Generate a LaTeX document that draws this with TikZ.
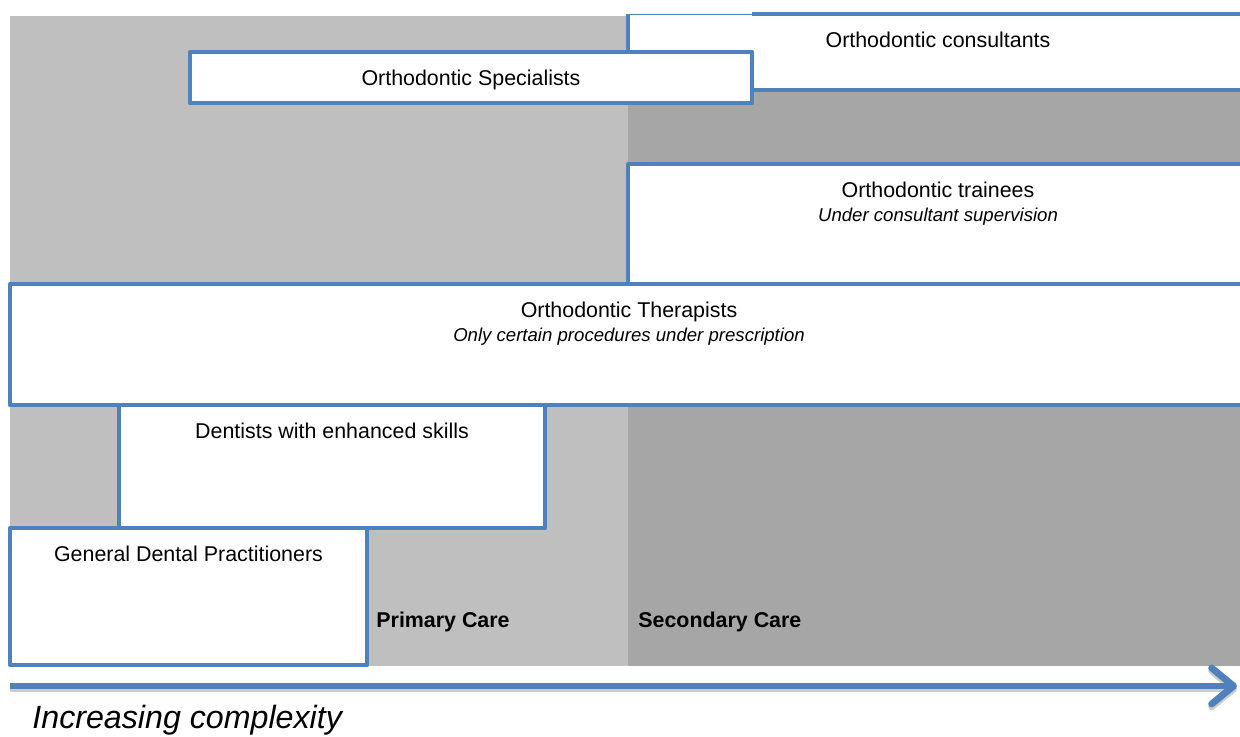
\documentclass[tikz,border=0pt]{standalone}
\usepackage{fontspec}
\setmainfont{Liberation Sans}
\usepackage{tikz}
\usetikzlibrary{shapes,arrows.meta,positioning}
\definecolor{rimblue}{HTML}{4F81BD}
\definecolor{primgrey}{HTML}{BFBFBF}
\definecolor{secgrey}{HTML}{A6A6A6}
\tikzstyle{tier} = [draw=rimblue, fill=white, line width=2.2pt, line join=round, rectangle, anchor=north west, inner sep=0pt, outer sep=0pt]
\tikzstyle{rim} = [draw=rimblue, line width=2.2pt, line join=round]
\tikzstyle{growth} = [draw=rimblue, line width=3pt, -{Straight Barb[length=11pt,width=18pt,round,line width=3.4pt]}]

\begin{document}
\begin{tikzpicture}[x=0.5pt,y=-0.5pt]
\tikzstyle{ann} = [font=\fontsize{10.7}{12}\selectfont, align=center, inner sep=0pt]
\tikzstyle{care} = [font=\fontsize{10.7}{12}\selectfont\bfseries, anchor=west, inner sep=0pt]
\useasboundingbox (0,0) rectangle (1240,737);
% care zones
\fill[primgrey] (10,16) rectangle (628,666);
\fill[secgrey] (628,16) rectangle (1240,666);
% consultants box, open at the top left
\node[tier, draw=none, minimum width=310pt, minimum height=38pt] (cons) at (628,14) {};
\draw[rim] (cons.north west -| 752,0) -- (cons.north east);
\draw[rim, line width=0.4pt] (cons.north west) -- (cons.north west -| 752,0);
\draw[rim] (cons.north west) -- (cons.south west) -- (cons.south east);
\node[tier, minimum width=281pt, minimum height=25.5pt] (spec) at (190,52) {};
\node[tier, minimum width=310pt, minimum height=60pt] (train) at (628,164) {};
\node[tier, minimum width=619pt, minimum height=60.5pt] (ther) at (10,284) {};
\node[tier, minimum width=213pt, minimum height=61.5pt] (dent) at (119,405) {};
\node[tier, minimum width=178.5pt, minimum height=68.5pt] (gdp) at (10,528) {};
% texts
\node[ann, below=9pt of cons.north] {Orthodontic consultants};
\node[ann, below=9pt of spec.north] {Orthodontic Specialists};
\node[ann, below=9pt of train.north] {Orthodontic trainees\\{\itshape\fontsize{9.3}{12}\selectfont Under consultant supervision}};
\node[ann, below=9pt of ther.north] {Orthodontic Therapists\\{\itshape\fontsize{9.3}{12}\selectfont Only certain procedures under prescription}};
\node[ann, below=9pt of dent.north] {Dentists with enhanced skills};
\node[ann, below=9pt of gdp.north] {General Dental Practitioners};
\node[care] (primary) at (376,622) {Primary Care};
\node[care] (secondary) at (638,622) {Secondary Care};
% complexity arrow
\coordinate (astart) at (10,686);
\coordinate (aend) at (1237,686);
\draw[growth, draw=black!20] ([yshift=-1.5pt]astart) -- ([yshift=-1.5pt]aend);
\draw[growth] (astart) -- (aend);
\node[font=\fontsize{16.1}{18}\selectfont\itshape, anchor=west, inner sep=0pt] (complexity) at (32,720) {Increasing complexity};
\end{tikzpicture}
\end{document}
